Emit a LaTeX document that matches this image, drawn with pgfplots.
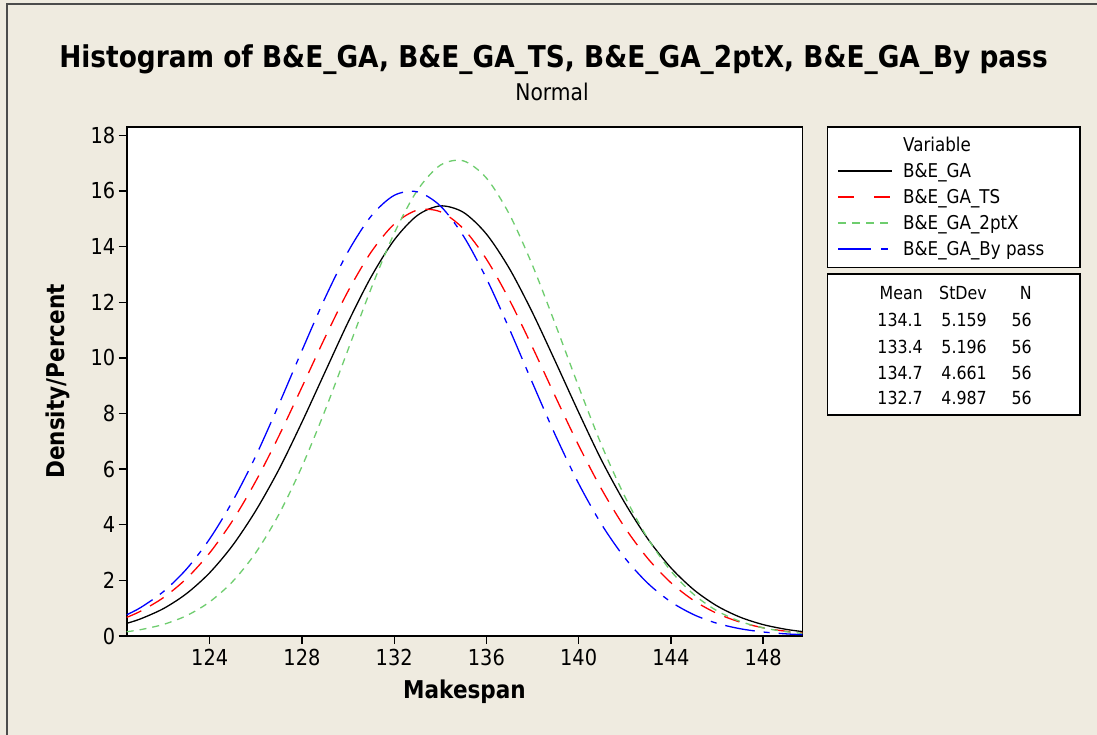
\documentclass[border=0pt]{standalone}
\usepackage{fontspec}
\setmainfont{DejaVu Sans}[FakeStretch=0.88]
\usepackage{pgfplots}
\pgfplotsset{compat=1.18}
\definecolor{bg}{RGB}{239,235,224}
\definecolor{ggreen}{RGB}{110,205,110}
\begin{document}
\begin{tikzpicture}
\begin{scope}[x=1pt,y=-1pt]
\fill[bg] (0,0) rectangle (1097,735);
\draw[line width=1.5pt, black!70] (7,735) -- (7,4) -- (1097,4);
\node[font=\fontsize{30}{36}\selectfont\bfseries] at (553.5,60) {Histogram of B\&E\_GA, B\&E\_GA\_TS, B\&E\_GA\_2ptX, B\&E\_GA\_By pass};
\node[font=\fontsize{23}{28}\selectfont] at (552,92) {Normal};
\end{scope}
\begin{axis}[
  at={(126.7pt,-636pt)}, anchor=south west,
  width=675.6pt, height=509pt, scale only axis,
  xmin=120.4, xmax=149.7, ymin=0, ymax=18.3,
  xtick={124,128,...,148}, ytick={0,2,...,18},
  tick align=outside, major tick length=8pt,
  xtick pos=bottom, ytick pos=left,
  tick style={black, line width=1.3pt},
  axis line style={line width=1.6pt},
  axis background/.style={fill=white},
  /pgf/number format/assume math mode=true,
  every tick label/.append style={font=\fontsize{22}{26}\selectfont},
  xticklabel style={yshift=-2pt},
  xlabel={Makespan}, ylabel={Density/Percent},
  label style={font=\fontsize{24.5}{29}\selectfont\bfseries},
  xlabel style={at={(axis description cs:0.5,-0.110)}, anchor=center},
  ylabel style={at={(axis description cs:-0.1020,0.5)}, anchor=center},
]
% B&E_GA  (mean 134.1, StDev 5.159)
\addplot[black, line width=1.3pt, smooth] coordinates {
(120.4,0.4550) (121,0.6155) (122,0.9882) (123,1.5281) (124,2.2756) (125,3.2640)
(126,4.5089) (127,5.9859) (128,7.6877) (129,9.4879) (130,11.2779) (131,12.9113)
(132,14.2363) (133,15.1184) (134,15.4631) (135,15.2324) (136,14.4519) (137,13.2057)
(138,11.6221) (139,9.8512) (140,8.0422) (141,6.3091) (142,4.7884) (143,3.4925)
(144,2.4533) (145,1.6598) (146,1.0815) (147,0.6787) (148,0.4102) (149,0.2388) (149.7,0.1599)};
% B&E_GA_TS (133.4, 5.196)
\addplot[red, line width=1.3pt, smooth, dash pattern=on 16pt off 10pt] coordinates {
(120.4,0.6715) (121,0.8904) (122,1.3836) (123,2.0718) (124,2.9895) (125,4.1569)
(126,5.5699) (127,7.1918) (128,8.9484) (129,10.7292) (130,12.3965) (131,13.8023)
(132,14.8086) (133,15.3106) (134,15.2540) (135,14.6450) (136,13.5491) (137,12.0793)
(138,10.3775) (139,8.5912) (140,6.8537) (141,5.2689) (142,3.9032) (143,2.7864)
(144,1.9168) (145,1.2706) (146,0.8117) (147,0.4996) (148,0.2964) (149,0.1694) (149.7,0.1120)};
% B&E_GA_2ptX (134.7, 4.661)
\addplot[ggreen, line width=1.3pt, smooth, dash pattern=on 7pt off 6pt] coordinates {
(120.4,0.1547) (121,0.2278) (122,0.4181) (123,0.7332) (124,1.2277) (125,1.9633)
(126,2.9986) (127,4.3735) (128,6.0921) (129,8.1041) (130,10.2957) (131,12.4915)
(132,14.4739) (133,16.0165) (134,16.9260) (135,17.0826) (136,16.4650) (137,15.1558)
(138,13.3231) (139,11.1851) (140,8.9678) (141,6.8512) (142,5.0211) (143,3.5066)
(144,2.3386) (145,1.4895) (146,0.9061) (147,0.5263) (148,0.2920) (149,0.1547) (149.7,0.0965)};
% B&E_GA_By pass (132.7, 4.987)
\addplot[blue, line width=1.3pt, smooth, dash pattern=on 30pt off 9pt on 6pt off 9pt] coordinates {
(120.4,0.7641) (121,1.0206) (122,1.6012) (123,2.4130) (124,3.4932) (125,4.8575)
(126,6.4740) (127,8.3255) (128,10.2617) (129,12.1496) (130,13.8179) (131,15.0959)
(132,15.8422) (133,15.9701) (134,15.4645) (135,14.3849) (136,12.8531) (137,11.0320)
(138,9.0956) (139,7.2036) (140,5.4803) (141,4.0049) (142,2.8114) (143,1.8958)
(144,1.2280) (145,0.7641) (146,0.4567) (147,0.2622) (148,0.1446) (149,0.0766) (149.7,0.0480)};
\end{axis}
\begin{scope}[x=1pt,y=-1pt]
% legend box
\draw[line width=1.6pt, fill=white] (827.3,127.3) rectangle (1080,267.7);
\begin{scope}[every node/.style={font=\fontsize{19}{22}\selectfont, inner sep=0pt, anchor=base west}]
\node at (903,152) {Variable};
\node at (903,178) {B\&E\_GA};
\node at (903,204) {B\&E\_GA\_TS};
\node at (903,230) {B\&E\_GA\_2ptX};
\node at (903,256) {B\&E\_GA\_By pass};
\end{scope}
\draw[black, line width=1.3pt] (838,171) -- (892,171);
\draw[red, line width=1.3pt, dash pattern=on 16pt off 20pt] (838,197) -- (892,197);
\draw[ggreen, line width=1.3pt, dash pattern=on 8pt off 6pt] (838,223) -- (892,223);
\draw[blue, line width=1.3pt, dash pattern=on 33pt off 10pt on 7pt off 10pt] (838,249) -- (892,249);
% statistics box
\draw[line width=1.6pt, fill=white] (827.3,274) rectangle (1080,415);
\begin{scope}[every node/.style={font=\fontsize{18}{22}\selectfont, inner sep=0pt, anchor=east}]
\node at (923,293) {Mean};
\node at (987,293) {StDev};
\node at (1032,293) {N};
\node at (923,320) {134.1}; \node at (987,320) {5.159}; \node at (1032,320) {56};
\node at (923,347) {133.4}; \node at (987,347) {5.196}; \node at (1032,347) {56};
\node at (923,373) {134.7}; \node at (987,373) {4.661}; \node at (1032,373) {56};
\node at (923,398) {132.7}; \node at (987,398) {4.987}; \node at (1032,398) {56};
\end{scope}
\end{scope}
\pgfresetboundingbox
\useasboundingbox (0pt,0pt) rectangle (1097pt,-735pt);
\end{tikzpicture}
\end{document}
